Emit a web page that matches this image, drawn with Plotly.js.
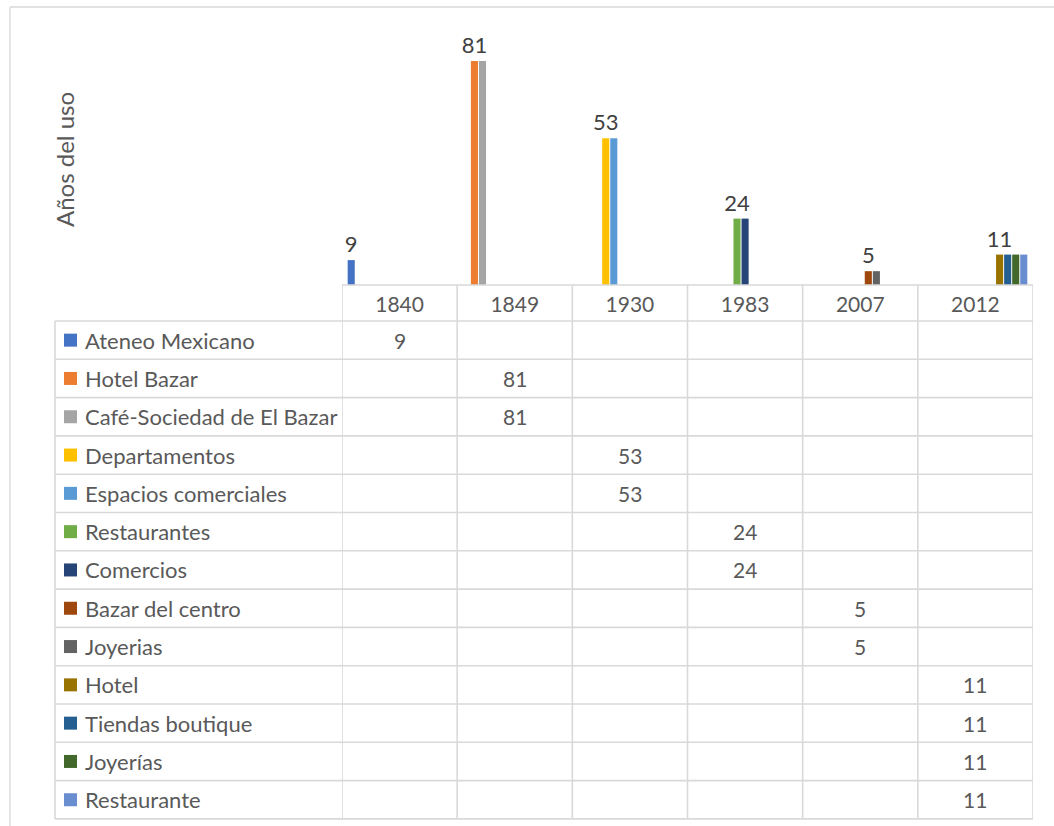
<!DOCTYPE html>
<html>
<head>
<meta charset="utf-8">
<script src="https://cdn.plot.ly/plotly-3.0.1.min.js"></script>
<style>html,body{margin:0;padding:0;background:#fff;}#chart{width:1054px;height:826px;}</style>
</head>
<body>
<div id="chart"></div>
<script>
const years = ['1840', '1849', '1930', '1983', '2007', '2012'];
const seriesNames = ['Ateneo Mexicano', 'Hotel Bazar', 'Café-Sociedad de El Bazar', 'Departamentos',
  'Espacios comerciales', 'Restaurantes', 'Comercios', 'Bazar del centro', 'Joyerias', 'Hotel',
  'Tiendas boutique', 'Joyerías', 'Restaurante'];
const seriesValues = [
  [9, null, null, null, null, null],
  [null, 81, null, null, null, null],
  [null, 81, null, null, null, null],
  [null, null, 53, null, null, null],
  [null, null, 53, null, null, null],
  [null, null, null, 24, null, null],
  [null, null, null, 24, null, null],
  [null, null, null, null, 5, null],
  [null, null, null, null, 5, null],
  [null, null, null, null, null, 11],
  [null, null, null, null, null, 11],
  [null, null, null, null, null, 11],
  [null, null, null, null, null, 11]
];
const seriesColors = ['#4472C4', '#ED7D31', '#A5A5A5', '#FFC000', '#5B9BD5', '#70AD47', '#264478',
  '#9E480E', '#636363', '#997300', '#255E91', '#43682B', '#698ED0'];
const labelledSeries = [0, 1, 3, 5, 7, 9];
const yTitle = 'Años del uso';

const W = 1054, H = 826;
const plotL = 342, plotR = 1033, plotT = 36, plotB = 285;
const rowTop = 321, rowH = 38.3;
const tableL = 55;
const gridColor = '#D9D9D9';
const textColor = '#595959';
const FONT = 'Lato, "Open Sans", sans-serif';
function py(y) { return (plotB - y) / (plotB - plotT); }
function pxx(x) { return (x - plotL) / (plotR - plotL); }

const traces = seriesNames.map((name, i) => {
  const t = {
    type: 'bar', name: name, x: years, y: seriesValues[i],
    marker: { color: seriesColors[i], line: { width: 0 } },
    hoverinfo: 'name+y'
  };
  if (labelledSeries.includes(i)) {
    t.text = seriesValues[i].map(v => v == null ? '' : String(v));
    t.textposition = 'outside';
    t.cliponaxis = false;
    t.constraintext = 'none';
    t.textfont = { family: FONT, size: 22, color: '#404040' };
  }
  return t;
});

const shapes = [];
const annotations = [];
// chart border (top and left)
shapes.push({ type: 'line', xref: 'paper', yref: 'paper', x0: pxx(10), x1: pxx(1060), y0: py(7), y1: py(7), line: { color: gridColor, width: 1.3 } });
shapes.push({ type: 'line', xref: 'paper', yref: 'paper', x0: pxx(10), x1: pxx(10), y0: py(7), y1: py(830), line: { color: gridColor, width: 1.3 } });
// axis line / header top
shapes.push({ type: 'line', xref: 'paper', yref: 'paper', x0: 0, x1: 1, y0: py(plotB), y1: py(plotB), line: { color: gridColor, width: 1.6 } });
const nRows = seriesNames.length;
const tableBottom = rowTop + nRows * rowH;
for (let k = 0; k <= nRows; k++) {
  const y = rowTop + k * rowH;
  shapes.push({ type: 'line', xref: 'paper', yref: 'paper', x0: pxx(tableL), x1: 1, y0: py(y), y1: py(y), line: { color: gridColor, width: 1.6 } });
}
shapes.push({ type: 'line', xref: 'paper', yref: 'paper', x0: pxx(tableL), x1: pxx(tableL), y0: py(rowTop), y1: py(tableBottom), line: { color: gridColor, width: 1.6 } });
for (let c = 0; c <= years.length; c++) {
  shapes.push({ type: 'line', xref: 'x', yref: 'paper', x0: c - 0.5, x1: c - 0.5, y0: py(plotB), y1: py(tableBottom), line: { color: gridColor, width: 1.6 } });
}
// rows: legend keys, names, values
seriesNames.forEach((name, i) => {
  const yc = rowTop + (i + 0.5) * rowH;
  shapes.push({ type: 'rect', xref: 'paper', yref: 'paper', x0: pxx(64), x1: pxx(77), y0: py(yc - 6.5), y1: py(yc + 6.5), fillcolor: seriesColors[i], line: { width: 0 } });
  annotations.push({ xref: 'paper', yref: 'paper', x: pxx(83), y: py(yc), xanchor: 'left', yanchor: 'middle', text: name, showarrow: false, font: { family: FONT, size: 22, color: textColor } });
  seriesValues[i].forEach((v, c) => {
    if (v != null) {
      annotations.push({ xref: 'x', yref: 'paper', x: c, y: py(yc), xanchor: 'center', yanchor: 'middle', text: String(v), showarrow: false, font: { family: FONT, size: 21, color: textColor } });
    }
  });
});
// y axis title
annotations.push({ xref: 'paper', yref: 'paper', x: pxx(64), y: py(160), xanchor: 'center', yanchor: 'middle', textangle: -90, text: yTitle, showarrow: false, font: { family: FONT, size: 24, color: textColor } });

const layout = {
  width: W, height: H,
  margin: { l: plotL, r: W - plotR, t: plotT, b: H - plotB, pad: 0 },
  paper_bgcolor: '#FFFFFF', plot_bgcolor: '#FFFFFF',
  barmode: 'group', bargap: 0.09, bargroupgap: 0.12,
  showlegend: false,
  xaxis: { type: 'category', range: [-0.5, years.length - 0.5], showgrid: false, zeroline: false, showline: false, ticks: '', ticklabelstandoff: 5, tickfont: { family: FONT, size: 21, color: textColor }, fixedrange: true },
  yaxis: { range: [0, 90], visible: false, showgrid: false, zeroline: false, fixedrange: true },
  shapes: shapes, annotations: annotations,
  font: { family: FONT, color: textColor }
};
Plotly.newPlot('chart', traces, layout, { displayModeBar: false, staticPlot: true });
</script>
</body>
</html>
